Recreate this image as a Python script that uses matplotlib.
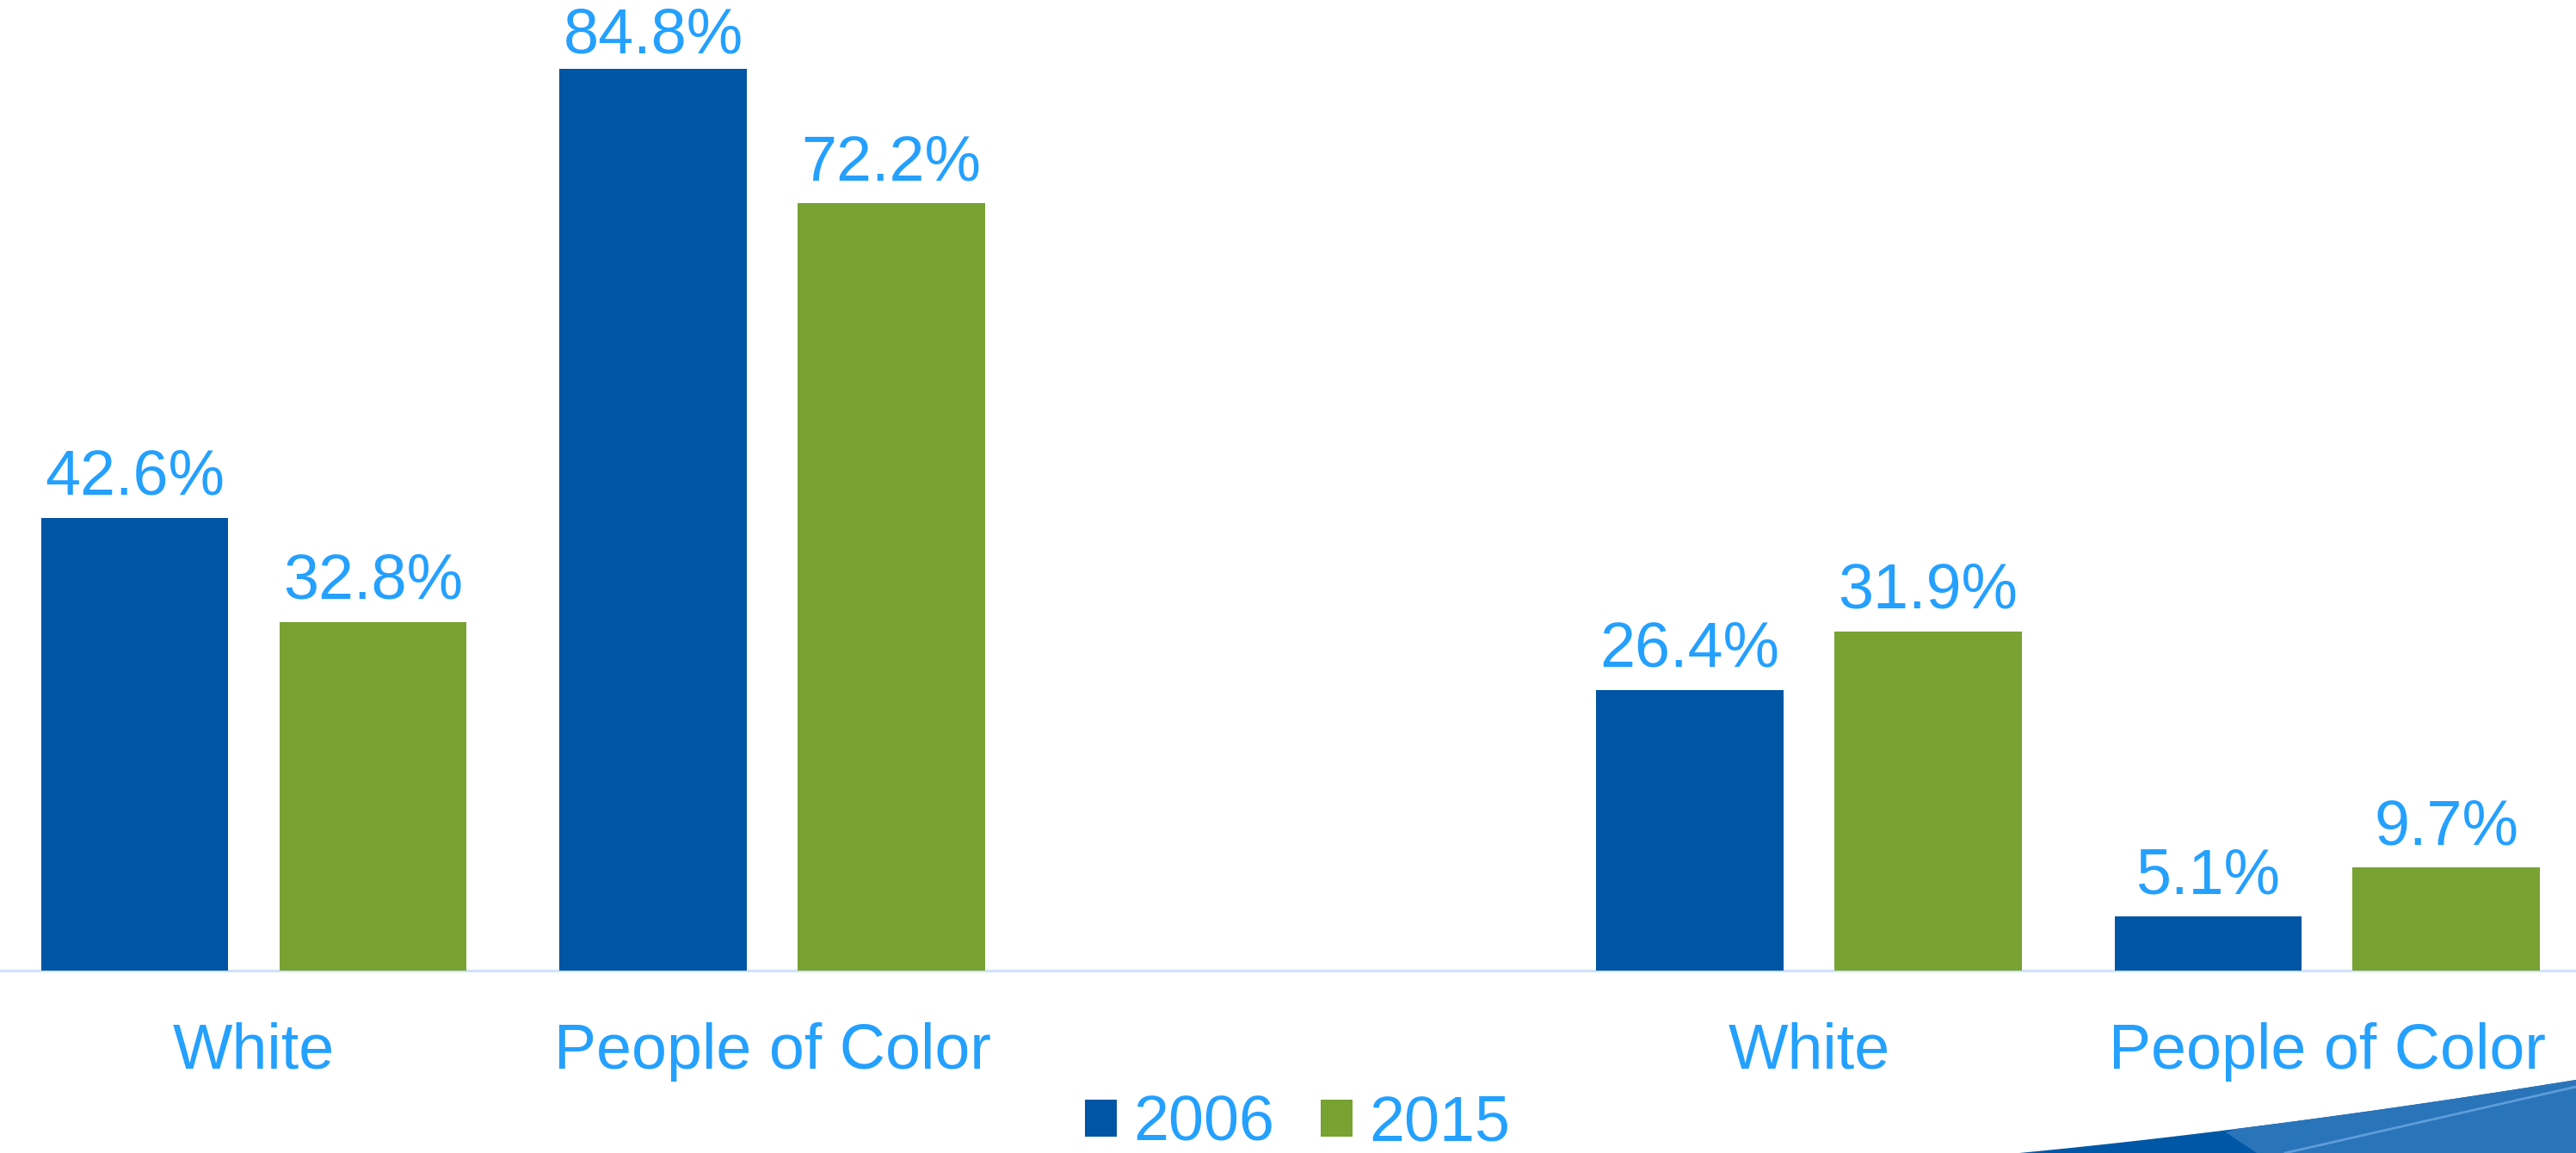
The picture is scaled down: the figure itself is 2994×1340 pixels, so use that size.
import matplotlib
matplotlib.use('Agg')
import matplotlib.pyplot as plt
import matplotlib.transforms as mtransforms
from matplotlib.patches import Polygon
import numpy as np

# ---- data ----
categories = ['White', 'People of Color', '', 'White', 'People of Color']
series_names = ['2006', '2015']
values_2006 = [42.6, 84.8, np.nan, 26.4, 5.1]
values_2015 = [32.8, 72.2, np.nan, 31.9, 9.7]

# ---- styles ----
BLUE = '#0055A4'
GREEN = '#78A232'
TXT = '#24A0FF'
AXLINE = '#CFE3F7'
SW_DARK = '#0057A6'
SW_LIGHT = '#2A74BA'
SW_LINE = '#5E9DDA'
FS = 53

plt.rcParams['font.family'] = ['Liberation Sans', 'DejaVu Sans']

W, H = 2994, 1340
fig = plt.figure(figsize=(W / 100, H / 100), dpi=100)
base_px = 1128
ax = fig.add_axes([0, 1 - base_px / H, 1, base_px / H])

x = np.arange(len(categories))
bw = 0.3613
off = 0.2298
b1 = ax.bar(x - off, values_2006, bw, color=BLUE, label=series_names[0])
b2 = ax.bar(x + off, values_2015, bw, color=GREEN, label=series_names[1])

ymax = 91.3
ax.set_xlim(-0.4897, 4.480)
ax.set_ylim(0, ymax)
ax.axis('off')
ax.axhline(0, color=AXLINE, lw=2.2, clip_on=False, zorder=0)

# value labels
for xs, vals in ((x - off, values_2006), (x + off, values_2015)):
    for xi, v in zip(xs, vals):
        if np.isnan(v):
            continue
        y = min(v + 2.18, ymax - 5.0)
        ax.text(xi, y, f'{v:.1f}%', ha='center', va='baseline',
                fontsize=FS, color=TXT)

# category labels
trans = mtransforms.blended_transform_factory(ax.transData, fig.transFigure)
for xi, c in zip(x, categories):
    if c:
        ax.text(xi, 1 - 1242 / H, c, transform=trans, ha='center',
                va='baseline', fontsize=FS, color=TXT, clip_on=False)

# legend
fig.legend(handles=[b1, b2], labels=series_names, loc='center',
           bbox_to_anchor=(0.5037, 1 - 1306 / H), ncol=2, frameon=False,
           fontsize=FS, handlelength=0.51, handleheight=0.53,
           handletextpad=0.26, columnspacing=0.73, borderpad=0,
           labelcolor=TXT)

# decorative swoosh bottom-right
def fp(px, py):
    return (px / W, 1 - py / H)

t = np.linspace(0, 1, 30)
p0, p1, p2 = np.array([2347, 1340]), np.array([2640, 1312]), np.array([2994, 1255])
curve = [(1 - tt) ** 2 * p0 + 2 * (1 - tt) * tt * p1 + tt ** 2 * p2 for tt in t]
dark = [fp(*c) for c in curve] + [fp(2994, 1340)]
fig.patches.append(Polygon(dark, closed=True, transform=fig.transFigure,
                           facecolor=SW_DARK, edgecolor='none'))
curve_arr = np.array(curve)
mask = curve_arr[:, 0] >= 2587
light = [fp(2587, 1316)] + [fp(*c) for c in curve_arr[mask]] + [fp(2994, 1340), fp(2623, 1340)]
fig.patches.append(Polygon(light, closed=True, transform=fig.transFigure,
                           facecolor=SW_LIGHT, edgecolor='none'))
fig.lines.append(plt.Line2D([2656 / W, 1.0], [1 - 1340 / H, 1 - 1263 / H],
                            transform=fig.transFigure, color=SW_LINE, lw=2))

fig.savefig('out.png', dpi=100)
